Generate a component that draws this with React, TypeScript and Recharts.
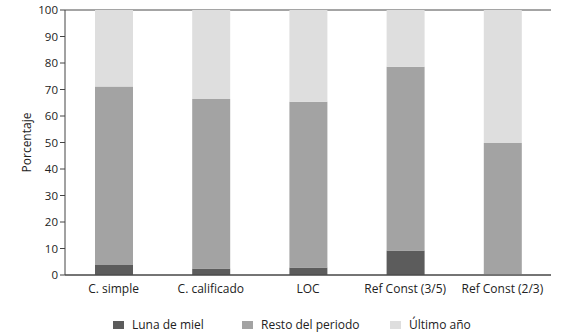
import React from 'react';
import { BarChart, Bar, XAxis, YAxis, CartesianGrid, Legend } from 'recharts';

const categories = ['C. simple', 'C. calificado', 'LOC', 'Ref Const (3/5)', 'Ref Const (2/3)'];
const lunaDeMiel = [3.8, 2.5, 2.8, 9.2, 0];
const restoDelPeriodo = [67.3, 63.9, 62.6, 69.4, 49.8];
const ultimoAnio = [28.9, 33.6, 34.6, 21.4, 50.2];
const yTicks = [0, 10, 20, 30, 40, 50, 60, 70, 80, 90, 100];

const seriesNames = ['Luna de miel', 'Resto del periodo', 'Último año'];
const colors = ['#5c5c5c', '#a3a3a3', '#dedede'];

const data = categories.map((c, i) => ({
  name: c,
  luna: lunaDeMiel[i],
  resto: restoDelPeriodo[i],
  ultimo: ultimoAnio[i],
}));

const FONT = '"Open Sans", "Noto Sans", sans-serif';

const LegendContent = () => (
  <div style={{ position: 'relative', height: 20, fontFamily: FONT, fontSize: 12, color: '#222' }}>
    {seriesNames.map((n, i) => (
      <div key={n} style={{ position: 'absolute', left: [113, 242, 390][i], top: 9, display: 'flex', alignItems: 'center' }}>
        <span style={{ display: 'inline-block', width: 11, height: 8, background: colors[i], marginRight: 8 }} />
        <span>{n}</span>
      </div>
    ))}
  </div>
);

export default function App() {
  return (
    <div style={{ position: 'absolute', left: 0, top: 0, width: 564, height: 335, background: '#fff' }}>
      <BarChart width={564} height={335} data={data} margin={{ top: 10, right: 13, left: 0, bottom: 0 }}>
        <CartesianGrid horizontal vertical={false} stroke="#4a4a4a" strokeWidth={1} />
        <XAxis
          dataKey="name"
          tickLine={false}
          axisLine={{ stroke: '#444' }}
          tick={{ fontFamily: FONT, fontSize: 12, fill: '#222' }}
          height={32}
          tickMargin={3}
        />
        <YAxis
          yAxisId="left"
          domain={[0, 100]}
          ticks={yTicks}
          width={65}
          interval={0}
          axisLine={{ stroke: '#444' }}
          tickLine={{ stroke: '#444' }}
          tickSize={5}
          tick={{ fontFamily: FONT, fontSize: 11.5, fill: '#222' }}
          label={{ value: 'Porcentaje', angle: -90, position: 'insideLeft', offset: 27, style: { fontFamily: FONT, fontSize: 12, fill: '#222', textAnchor: 'middle' } }}
        />
        <YAxis yAxisId="right" orientation="right" domain={[0, 100]} width={0} tick={false} tickLine={false} axisLine={{ stroke: '#444' }} />
        <Legend verticalAlign="bottom" height={28} content={<LegendContent />} />
        <Bar yAxisId="left" dataKey="luna" stackId="a" fill={colors[0]} barSize={38} isAnimationActive={false} />
        <Bar yAxisId="left" dataKey="resto" stackId="a" fill={colors[1]} barSize={38} isAnimationActive={false} />
        <Bar yAxisId="left" dataKey="ultimo" stackId="a" fill={colors[2]} barSize={38} isAnimationActive={false} />
      </BarChart>
    </div>
  );
}
